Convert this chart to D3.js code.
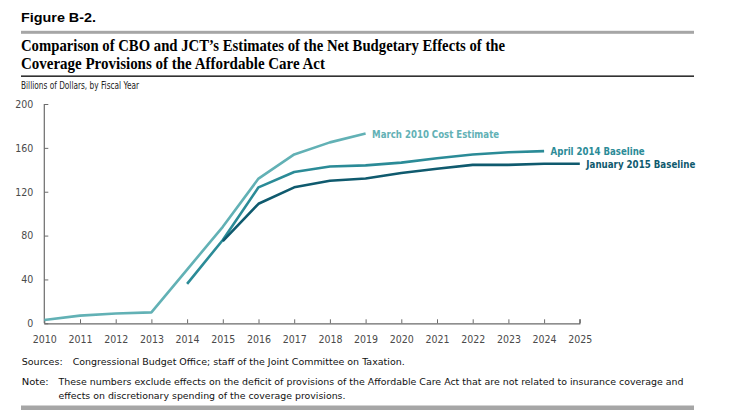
<!DOCTYPE html>
<html><head><meta charset="utf-8">
<script src="https://cdn.jsdelivr.net/npm/d3@7"></script>
<style>
body{margin:0;background:#fff;}
svg{display:block;}
.cond{font-family:"Liberation Sans Narrow","DejaVu Sans Condensed","Roboto Condensed",Arial,sans-serif;}
</style></head>
<body>
<svg id="chart" width="740" height="410"></svg>
<script>
const years = [2010,2011,2012,2013,2014,2015,2016,2017,2018,2019,2020,2021,2022,2023,2024,2025];
const yTicks = [0,40,80,120,160,200];
const seriesNames = ["March 2010 Cost Estimate","April 2014 Baseline","January 2015 Baseline"];
const march2010Years = [2010,2011,2012,2013,2014,2015,2016,2017,2018,2019];
const march2010Values = [3,7,9,10,49,88,132,154,165,173];
const april2014Years = [2014,2015,2016,2017,2018,2019,2020,2021,2022,2023,2024];
const april2014Values = [36,76,124,138,143,144,146.5,150.5,154,156,157];
const jan2015Years = [2015,2016,2017,2018,2019,2020,2021,2022,2023,2024,2025];
const jan2015Values = [75,109,124,130,132,137,141,144.5,144.5,145.5,145.5];
const seriesColors = ["#62b1b5","#2b8b97","#0f5a6e"];

const svg = d3.select("#chart");
const x = d3.scaleLinear().domain([2010,2025]).range([44.3,579.8]);
const y = d3.scaleLinear().domain([0,200]).range([323.3,104]);

function fit(sel, w){
  sel.attr("textLength", w).attr("lengthAdjust","spacingAndGlyphs");
}

// Header
fit(svg.append("text").attr("x",21).attr("y",22)
  .attr("font-family","'Liberation Sans',Arial,sans-serif").attr("font-weight",900)
  .attr("font-size",12.5).attr("fill","#000").text("Figure B-2."),75);
svg.append("rect").attr("x",21).attr("y",30.8).attr("width",673).attr("height",3).attr("fill","#a6a6a6");
const serif = "'Liberation Serif','DejaVu Serif',serif";
fit(svg.append("text").attr("x",21).attr("y",50.5).attr("font-family",serif).attr("font-weight","bold")
  .attr("font-size",16.5).attr("fill","#000")
  .text("Comparison of CBO and JCT\u2019s Estimates of the Net Budgetary Effects of the"),484);
fit(svg.append("text").attr("x",21).attr("y",68.5).attr("font-family",serif).attr("font-weight","bold")
  .attr("font-size",16.5).attr("fill","#000")
  .text("Coverage Provisions of the Affordable Care Act"),304);
svg.append("rect").attr("x",21).attr("y",75.5).attr("width",673).attr("height",1.3).attr("fill","#000");
fit(svg.append("text").attr("class","cond").attr("x",21).attr("y",88.5)
  .attr("font-size",10).attr("fill","#222").text("Billions of Dollars, by Fiscal Year"),118);

// Axes
const axisColor = "#6b6b6b";
const gy = svg.append("g").attr("transform",`translate(${x(2010)},0)`)
  .call(d3.axisLeft(y).tickValues(yTicks).tickSize(-4).tickPadding(11).tickFormat(d3.format("d")));
const gx = svg.append("g").attr("transform",`translate(0,${y(0)})`)
  .call(d3.axisBottom(x).tickValues(years).tickSize(-4).tickPadding(12).tickFormat(d3.format("d")));
[gx,gy].forEach(g=>{
  g.select(".domain").attr("stroke",axisColor).attr("stroke-width",1.2);
  g.selectAll(".tick line").attr("stroke",axisColor).attr("stroke-width",1);
  g.selectAll(".tick text").attr("class","cond").attr("font-size",10.5).attr("fill","#4a4a4a");
});
gx.select(".domain").attr("d",`M${x(2010)},0.5V0.5H${x(2025)}V-4`);
gy.select(".domain").attr("d",`M0,${y(0)}V${y(200)}`);

// Lines
const series = [
  {yrs:march2010Years, vals:march2010Values},
  {yrs:april2014Years, vals:april2014Values},
  {yrs:jan2015Years, vals:jan2015Values}
];
const line = d3.line().x(d=>x(d[0])).y(d=>y(d[1]));
const labelW = [127,94,109];
series.forEach((s,i)=>{
  const pts = s.yrs.map((yr,j)=>[yr,s.vals[j]]);
  svg.append("path").datum(pts).attr("d",line).attr("fill","none")
    .attr("stroke",seriesColors[i]).attr("stroke-width",2.6).attr("stroke-linejoin","round");
  const last = pts[pts.length-1];
  fit(svg.append("text").attr("class","cond").attr("x",x(last[0])+6.5).attr("y",y(last[1])+4)
    .attr("font-size",11).attr("font-weight","bold").attr("fill",seriesColors[i]).text(seriesNames[i]),labelW[i]);
});

// Footer
const foot = "'DejaVu Sans',Verdana,sans-serif";
const fs = 9.3;
function footText(xp, yp, t, w){
  fit(svg.append("text").attr("x",xp).attr("y",yp).attr("font-family",foot).attr("font-size",fs).attr("fill","#111").text(t), w);
}
footText(21.7, 364.5, "Sources:", 41);
footText(72.7, 364.5, "Congressional Budget Office; staff of the Joint Committee on Taxation.", 332);
footText(21.7, 384.5, "Note:", 27);
footText(58.5, 384.5, "These numbers exclude effects on the deficit of provisions of the Affordable Care Act that are not related to insurance coverage and", 625);
footText(58.5, 398.5, "effects on discretionary spending of the coverage provisions.", 287);
svg.append("rect").attr("x",21).attr("y",405.5).attr("width",673).attr("height",5).attr("fill","#a6a6a6");
</script>
</body></html>
